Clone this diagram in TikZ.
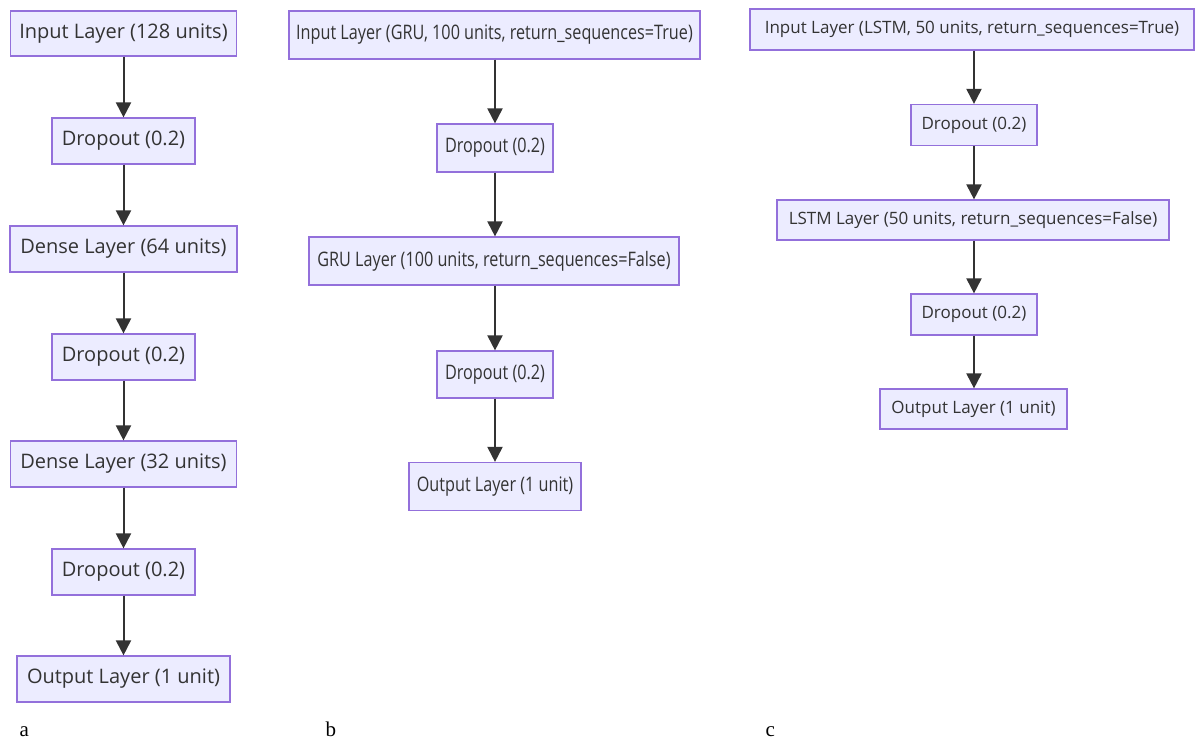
\documentclass[tikz,border=0pt]{standalone}
\usepackage{fontspec}
\setmainfont{Liberation Serif}
\newfontfamily\boxfont{Open Sans}
\usetikzlibrary{arrows.meta}
\definecolor{boxfill}{HTML}{ECECFF}
\definecolor{boxborder}{HTML}{9370DB}
\definecolor{txt}{HTML}{333333}
\definecolor{arr}{HTML}{333333}
\tikzset{
  layer/.style={draw=boxborder, fill=boxfill, line width=1.2pt, inner sep=0pt, text=txt},
  flow/.style={draw=arr, line width=2pt, -{Triangle[length=15pt,width=15pt]}},
  sub/.style={font=\fontsize{21}{24}\selectfont, anchor=base west}
}
\newcommand{\ta}[1]{{\boxfont\fontsize{20}{22}\selectfont #1}}
\newcommand{\tb}[1]{\scalebox{0.81}[1]{\boxfont\fontsize{20}{22}\selectfont #1}}
\newcommand{\tc}[1]{{\boxfont\fontsize{17}{19}\selectfont #1}}
\begin{document}
\begin{tikzpicture}[x=1pt,y=-1pt]
\useasboundingbox (0,0) rectangle (1195,740);
% column a
\node[layer, minimum width=226pt, minimum height=45pt] (a1) at (123.5,33.5) {\ta{Input Layer (128 units)}};
\node[layer, minimum width=143pt, minimum height=46pt] (a2) at (123.5,141) {\ta{Dropout (0.2)}};
\node[layer, minimum width=227pt, minimum height=46pt] (a3) at (123.5,249) {\ta{Dense Layer (64 units)}};
\node[layer, minimum width=143pt, minimum height=46pt] (a4) at (123.5,357) {\ta{Dropout (0.2)}};
\node[layer, minimum width=226pt, minimum height=46pt] (a5) at (123.5,464) {\ta{Dense Layer (32 units)}};
\node[layer, minimum width=143pt, minimum height=46pt] (a6) at (123.5,572) {\ta{Dropout (0.2)}};
\node[layer, minimum width=213pt, minimum height=46pt] (a7) at (123.5,679) {\ta{Output Layer (1 unit)}};
\foreach \i/\j in {a1/a2,a2/a3,a3/a4,a4/a5,a5/a6,a6/a7} \draw[flow] (\i.south -| a2) -- (\j.north -| a2);
% column b
\node[layer, minimum width=411pt, minimum height=48pt] (b1) at (494.5,35) {\tb{Input Layer (GRU, 100 units, return\_sequences=True)}};
\node[layer, minimum width=116pt, minimum height=48pt] (b2) at (495,148) {\tb{Dropout (0.2)}};
\node[layer, minimum width=370pt, minimum height=48pt] (b3) at (494,261) {\tb{GRU Layer (100 units, return\_sequences=False)}};
\node[layer, minimum width=116pt, minimum height=47pt] (b4) at (495,374.5) {\tb{Dropout (0.2)}};
\node[layer, minimum width=172pt, minimum height=48pt] (b5) at (495,486.5) {\tb{Output Layer (1 unit)}};
\foreach \i/\j in {b1/b2,b2/b3,b3/b4,b4/b5} \draw[flow] (\i.south -| b2) -- (\j.north -| b2);
% column c
\node[layer, minimum width=444pt, minimum height=41pt] (c1) at (972,29.5) {\tc{Input Layer (LSTM, 50 units, return\_sequences=True)}};
\node[layer, minimum width=126pt, minimum height=41pt] (c2) at (974,125) {\tc{Dropout (0.2)}};
\node[layer, minimum width=392pt, minimum height=40pt] (c3) at (973,220) {\tc{LSTM Layer (50 units, return\_sequences=False)}};
\node[layer, minimum width=126pt, minimum height=41pt] (c4) at (974,314.5) {\tc{Dropout (0.2)}};
\node[layer, minimum width=187pt, minimum height=40pt] (c5) at (973.5,409) {\tc{Output Layer (1 unit)}};
\foreach \i/\j in {c1/c2,c2/c3,c3/c4,c4/c5} \draw[flow] (\i.south -| c2) -- (\j.north -| c2);
% labels
\node[sub] (la) at (16,736) {a};
\node[sub] (lb) at (322,736) {b};
\node[sub] (lc) at (762,736) {c};
\end{tikzpicture}
\end{document}
